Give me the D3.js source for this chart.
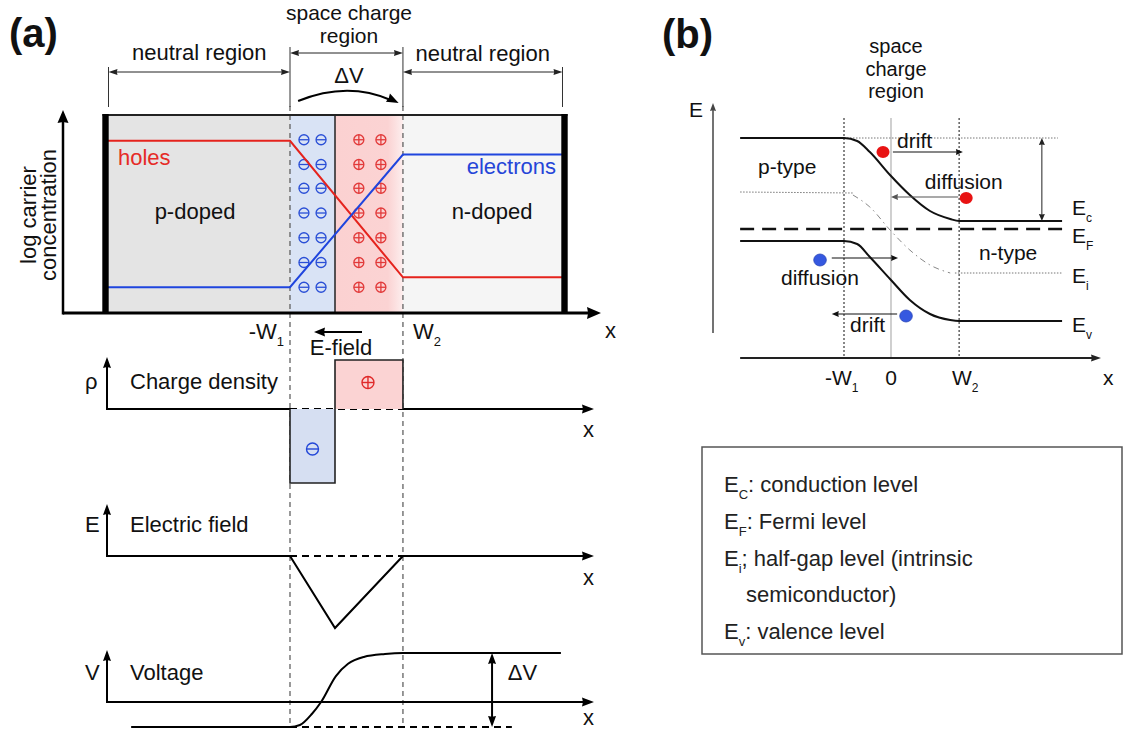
<!DOCTYPE html>
<html>
<head>
<meta charset="utf-8">
<title>p-n junction</title>
<script src="https://cdn.jsdelivr.net/npm/d3@7"></script>
<style>
html,body{margin:0;padding:0;background:#fff;}
svg{display:block;}
text{font-family:"Liberation Sans",Arial,Helvetica,sans-serif;fill:#111;}
</style>
</head>
<body>
<svg id="chart" width="1125" height="731"></svg>
<script>
// ===================== DATA =====================
// Panel (a): x in units of W1 (0 = metallurgical junction)
const contactsA = [-5.1, 5.1];                 // p-side and n-side contacts
const depletionA = [-1, 0, 1.51];              // -W1, junction, W2
const holesLogA = [[-5.1, 17.4], [-1, 17.4], [1.51, 3.6], [5.1, 3.6]];
const electronsLogA = [[-5.1, 2.6], [-1, 2.6], [1.51, 16.0], [5.1, 16.0]];
const ionRowsA = [17.5, 15.0, 12.6, 10.1, 7.6, 5.1, 2.6];
const acceptorColsA = [-0.69, -0.31];
const donorColsA = [0.53, 1.02];
const chargeBlocksA = [
  {x0: -1, x1: 0, rho: -1.51, sign: "-"},
  {x0: 0, x1: 1.51, rho: 1.0, sign: "+"}
];
const eFieldA = [[-1, 0], [0, -1.5], [1.51, 0]];
const voltageA = [[-4.53, -0.51], [-1, -0.51], [-0.78, -0.47], [-0.51, -0.24], [-0.31, 0],
                  [0.02, 0.53], [0.29, 0.78], [0.64, 0.92], [1.11, 0.98], [1.51, 1.0], [5.02, 1.0]];
const voltageStepA = [-0.51, 1.0];
const topLabelsA = ["neutral region", "space charge", "region", "ΔV", "neutral region"];
const boxLabelsA = ["holes", "electrons", "p-doped", "n-doped"];
const axisLabelA = ["log carrier", "concentration"];
const subPanelsA = [
  {sym: "ρ", name: "Charge density"},
  {sym: "E", name: "Electric field"},
  {sym: "V", name: "Voltage"}
];
const panelTitles = ["(a)", "(b)"];

// Panel (b): x in units of W1, energy in eV-like units
const spanB = [-3.21, 3.64];
const marksB = [-1, 0, 1.45];
const EcB = [[-3.21, 2.20], [-1, 2.20], [-0.72, 2.17], [-0.45, 2.06], [-0.02, 1.83], [0.40, 1.63],
             [0.83, 1.47], [1.26, 1.39], [1.45, 1.37], [3.64, 1.37]];
const EvB = [[-3.21, 1.17], [-1, 1.17], [-0.72, 1.14], [-0.45, 1.01], [-0.02, 0.79], [0.40, 0.58],
             [0.83, 0.44], [1.26, 0.38], [1.45, 0.37], [3.64, 0.37]];
const EFB = [[-3.21, 1.29], [3.64, 1.29]];
const EiLeftB = [[-3.21, 1.66], [-0.81, 1.65]];
const EiBendB = [[-0.81, 1.63], [-0.45, 1.51], [-0.02, 1.28], [0.40, 1.08], [0.83, 0.93], [1.26, 0.85]];
const EiRightB = [[1.36, 0.85], [3.64, 0.85]];
const electronsB = [[-0.17, 2.06], [1.60, 1.60]];
const holesB = [[-1.51, 0.98], [0.32, 0.42]];
const flowsB = [
  {label: "drift",     x0: 0.04,  x1: 1.53,  y: 2.06, lx: 0.13,  ly: 2.10, gray: false},
  {label: "diffusion", x0: 1.43,  x1: 0.00,  y: 1.61, lx: 0.72,  ly: 1.69, gray: true},
  {label: "diffusion", x0: -1.26, x1: 0.15,  y: 1.00, lx: -2.34, ly: 0.73, gray: false},
  {label: "drift",     x0: 0.13,  x1: -1.26, y: 0.44, lx: -0.87, ly: 0.26, gray: false}
];
const bandLabelsB = [
  {sub: "c", y: 1.43}, {sub: "F", y: 1.15}, {sub: "i", y: 0.75}, {sub: "v", y: 0.26}
];
const typeLabelsB = [{t: "p-type", x: -2.83, y: 1.84}, {t: "n-type", x: 1.87, y: 0.98}];
const headerB = ["space", "charge", "region"];
const legendB = [
  {sub: "C", sep: ":", text: " conduction level"},
  {sub: "F", sep: ":", text: " Fermi level"},
  {sub: "i", sep: ";", text: " half-gap level (intrinsic"},
  {sub: null, sep: "", text: "semiconductor)"},
  {sub: "v", sep: ":", text: " valence level"}
];

// ===================== HELPERS =====================
const svg = d3.select("#chart");
const defs = svg.append("defs");
const grad = defs.append("linearGradient").attr("id", "redFade").attr("x1", "0").attr("x2", "1").attr("y1", "0").attr("y2", "0");
grad.append("stop").attr("offset", "0").attr("stop-color", "#fbd1d1");
grad.append("stop").attr("offset", "0.78").attr("stop-color", "#fbd3d3");
grad.append("stop").attr("offset", "1").attr("stop-color", "#fdeeee");

function head(g, x, y, ang, len, half, color) {
  g.append("path")
    .attr("d", `M0,0L${-len},${-half}L${-len * 0.92},0L${-len},${half}Z`)
    .attr("transform", `translate(${x},${y}) rotate(${ang * 180 / Math.PI})`)
    .attr("fill", color);
}
function arrowLine(g, x1, y1, x2, y2, o) {
  const c = o.color || "#111";
  const ang = Math.atan2(y2 - y1, x2 - x1);
  const cut = o.len * 0.8;
  const sx = o.both ? x1 + Math.cos(ang) * cut : x1;
  const sy = o.both ? y1 + Math.sin(ang) * cut : y1;
  g.append("line").attr("x1", sx).attr("y1", sy)
    .attr("x2", x2 - Math.cos(ang) * cut).attr("y2", y2 - Math.sin(ang) * cut)
    .attr("stroke", c).attr("stroke-width", o.w || 1);
  head(g, x2, y2, ang, o.len, o.half, c);
  if (o.both) head(g, x1, y1, ang + Math.PI, o.len, o.half, c);
}
function subText(g, x, y, main, sub, rest, size, subSize, anchor, fill) {
  const t = g.append("text").attr("x", x).attr("y", y).attr("font-size", size)
    .attr("text-anchor", anchor || "start").style("fill", fill || "#111");
  t.append("tspan").text(main);
  if (sub) t.append("tspan").attr("font-size", subSize).attr("dy", size * 0.32).text(sub);
  if (rest) t.append("tspan").attr("dy", sub ? -size * 0.32 : 0).text(rest);
  return t;
}
function multiLine(g, x, y, lines, size, step) {
  const t = g.append("text").attr("x", x).attr("y", y).attr("font-size", size).attr("text-anchor", "middle");
  lines.forEach((l, i) => t.append("tspan").attr("x", x).attr("dy", i === 0 ? 0 : step).text(l));
  return t;
}
function ion(g, cx, cy, r, sign, color, w) {
  g.append("circle").attr("cx", cx).attr("cy", cy).attr("r", r)
    .attr("fill", "none").attr("stroke", color).attr("stroke-width", w);
  g.append("line").attr("x1", cx - r).attr("x2", cx + r).attr("y1", cy).attr("y2", cy)
    .attr("stroke", color).attr("stroke-width", w);
  if (sign === "+") g.append("line").attr("x1", cx).attr("x2", cx).attr("y1", cy - r).attr("y2", cy + r)
    .attr("stroke", color).attr("stroke-width", w);
}

// ===================== SCALES =====================
const xA = d3.scaleLinear().domain([-1, 0]).range([290, 335]);
const yConc = d3.scaleLinear().domain([0, 20]).range([313, 115]);
const yRho = d3.scaleLinear().domain([0, 1]).range([409, 360]);
const yEf = d3.scaleLinear().domain([0, -1.5]).range([556, 628]);
const yV = d3.scaleLinear().domain([0, 1]).range([702, 653]);
const xB = d3.scaleLinear().domain([-1, 0]).range([844, 891]);
const yB = d3.scaleLinear().domain([0, 1]).range([358, 258]);

const RED = "#e5231d", BLUE = "#1f45de";

// ===================== PANEL (a) =====================
const gA = svg.append("g");
const boxTop = yConc(20), boxBot = yConc(0);
const regionEdges = [contactsA[0], ...depletionA, contactsA[1]];
const regionFills = ["#e4e4e4", "#d9e3f5", "url(#redFade)", "#f5f5f5"];
gA.selectAll("rect.region").data(d3.range(4)).join("rect").attr("class", "region")
  .attr("x", i => xA(regionEdges[i])).attr("y", boxTop)
  .attr("width", i => xA(regionEdges[i + 1]) - xA(regionEdges[i])).attr("height", boxBot - boxTop)
  .attr("fill", i => regionFills[i]);

// ions
ionRowsA.forEach(r => {
  acceptorColsA.forEach(c => ion(gA, xA(c), yConc(r), 5, "-", "#2a4fd6", 1.3));
  donorColsA.forEach(c => ion(gA, xA(c), yConc(r), 5, "+", "#e23a3a", 1.3));
});

// dashed guides
[depletionA[0], depletionA[2]].forEach(v => {
  gA.append("line").attr("x1", xA(v)).attr("x2", xA(v)).attr("y1", 106).attr("y2", 728)
    .attr("stroke", "#555").attr("stroke-width", 1.2).attr("stroke-dasharray", "5,4");
});
// junction separator
gA.append("line").attr("x1", xA(0)).attr("x2", xA(0)).attr("y1", boxTop).attr("y2", boxBot)
  .attr("stroke", "#222").attr("stroke-width", 1.5);

// carrier lines
const lineA = d3.line().x(d => xA(d[0])).y(d => yConc(d[1]));
gA.append("path").attr("d", lineA(holesLogA)).attr("fill", "none").attr("stroke", RED).attr("stroke-width", 2);
gA.append("path").attr("d", lineA(electronsLogA)).attr("fill", "none").attr("stroke", BLUE).attr("stroke-width", 2);

// box border
gA.append("line").attr("x1", xA(contactsA[0]) - 3).attr("x2", xA(contactsA[1]) + 3)
  .attr("y1", boxTop).attr("y2", boxTop).attr("stroke", "#222").attr("stroke-width", 1.8);
contactsA.forEach(c => gA.append("rect").attr("x", xA(c) - 3.2).attr("y", boxTop - 1)
  .attr("width", 6.4).attr("height", boxBot - boxTop + 1).attr("fill", "#000"));

// main axes
arrowLine(gA, 63, boxBot, 601, boxBot, {w: 3, len: 14, half: 6, color: "#000"});
arrowLine(gA, 63, boxBot + 1.5, 63, 110, {w: 2.5, len: 13, half: 5.5, color: "#000"});

// top annotations
const ext = [[xA(contactsA[0]) + 3, 67], [xA(depletionA[0]), 47], [xA(depletionA[2]), 47], [xA(contactsA[1]) - 2, 67]];
ext.forEach(([x, y0]) => gA.append("line").attr("x1", x).attr("x2", x).attr("y1", y0).attr("y2", 107)
  .attr("stroke", "#333").attr("stroke-width", 1));
arrowLine(gA, ext[0][0], 72, ext[1][0], 72, {w: 1, len: 9, half: 3, color: "#222", both: true});
arrowLine(gA, ext[1][0], 53, ext[2][0], 53, {w: 1, len: 9, half: 3, color: "#222", both: true});
arrowLine(gA, ext[2][0], 72, ext[3][0], 72, {w: 1, len: 9, half: 3, color: "#222", both: true});

gA.append("text").attr("x", (ext[0][0] + ext[1][0]) / 2).attr("y", 60).attr("text-anchor", "middle")
  .attr("font-size", 22).text(topLabelsA[0]);
multiLine(gA, 349, 19.5, [topLabelsA[1], topLabelsA[2]], 21, 23.6);
gA.append("text").attr("x", 349).attr("y", 83).attr("text-anchor", "middle").attr("font-size", 22).text(topLabelsA[3]);
gA.append("text").attr("x", (ext[2][0] + ext[3][0]) / 2).attr("y", 61).attr("text-anchor", "middle")
  .attr("font-size", 22).text(topLabelsA[4]);

// curved delta-V arrow
{
  const x0 = xA(-0.82), x1 = xA(1.37);
  gA.append("path").attr("d", `M${x0},101 Q${(x0 + x1) / 2},81 ${x1 - 6},100`)
    .attr("fill", "none").attr("stroke", "#000").attr("stroke-width", 2);
  head(gA, x1 + 2, 103, Math.atan2(4, 8), 12, 4.5, "#000");
}

// box labels
gA.append("text").attr("x", 118).attr("y", 165).attr("font-size", 22).style("fill", "#e62b26").text(boxLabelsA[0]);
gA.append("text").attr("x", 556).attr("y", 174).attr("font-size", 22).attr("text-anchor", "end").style("fill", "#2545d8").text(boxLabelsA[1]);
gA.append("text").attr("x", 195).attr("y", 219).attr("font-size", 22).attr("text-anchor", "middle").text(boxLabelsA[2]);
gA.append("text").attr("x", 492).attr("y", 219).attr("font-size", 22).attr("text-anchor", "middle").text(boxLabelsA[3]);

// rotated y label
gA.append("text").attr("transform", "translate(36,215) rotate(-90)").attr("text-anchor", "middle")
  .attr("font-size", 22).text(axisLabelA[0]);
gA.append("text").attr("transform", "translate(56,215) rotate(-90)").attr("text-anchor", "middle")
  .attr("font-size", 22).text(axisLabelA[1]);

// x axis labels
subText(gA, 284, 339, "-W", "1", null, 22, 13, "end");
subText(gA, 413, 339, "W", "2", null, 22, 13, "start");
gA.append("text").attr("x", 605).attr("y", 338).attr("font-size", 22).text("x");
arrowLine(gA, 362, 332, 314, 332, {w: 2, len: 11, half: 4.5, color: "#000"});
gA.append("text").attr("x", 341).attr("y", 355).attr("text-anchor", "middle").attr("font-size", 22).text("E-field");

// ---- sub panels ----
const subAxes = [yRho(0), yEf(0), yV(0)];
const subTextY = [389, 532, 680];
const subXLabelY = [437, 585, 725];
subPanelsA.forEach((p, i) => {
  const y0 = subAxes[i];
  arrowLine(gA, 107, y0 + 1, 107, y0 - 52, {w: 2, len: 11, half: 4, color: "#000"});
  gA.append("text").attr("x", 85).attr("y", subTextY[i]).attr("font-size", 22).text(p.sym);
  gA.append("text").attr("x", 130).attr("y", subTextY[i]).attr("font-size", 22).text(p.name);
  gA.append("text").attr("x", 583).attr("y", subXLabelY[i]).attr("font-size", 22).text("x");
  if (i < 2) {
    gA.append("line").attr("x1", 107).attr("x2", xA(depletionA[0])).attr("y1", y0).attr("y2", y0)
      .attr("stroke", "#000").attr("stroke-width", 2);
    gA.append("line").attr("x1", xA(depletionA[0])).attr("x2", xA(depletionA[2])).attr("y1", y0).attr("y2", y0)
      .attr("stroke", "#000").attr("stroke-width", 2).attr("stroke-dasharray", "7,5");
    arrowLine(gA, xA(depletionA[2]), y0, 594, y0, {w: 2, len: 12, half: 4.5, color: "#000"});
  } else {
    arrowLine(gA, 107, y0, 594, y0, {w: 2, len: 12, half: 4.5, color: "#000"});
  }
});

// charge density blocks
chargeBlocksA.forEach(b => {
  const x0 = xA(b.x0), x1 = xA(b.x1), y0 = yRho(0), y1 = yRho(b.rho);
  gA.append("rect").attr("x", x0).attr("y", Math.min(y0, y1)).attr("width", x1 - x0)
    .attr("height", Math.abs(y1 - y0)).attr("fill", b.sign === "+" ? "#fbd3d3" : "#d6dff2");
  gA.append("path").attr("d", `M${x0},${y0}L${x0},${y1}L${x1},${y1}L${x1},${y0}`)
    .attr("fill", "none").attr("stroke", "#222").attr("stroke-width", 1.6);
  ion(gA, (x0 + x1) / 2 - (b.sign === "+" ? 1 : 0), (y0 + y1) / 2 + (b.sign === "+" ? -2 : 3), 6,
      b.sign, b.sign === "+" ? "#e02a2a" : "#2347d8", 1.4);
});

// electric field
gA.append("path").attr("d", d3.line().x(d => xA(d[0])).y(d => yEf(d[1]))(eFieldA))
  .attr("fill", "none").attr("stroke", "#000").attr("stroke-width", 2);

// voltage
gA.append("path").attr("d", d3.line().curve(d3.curveMonotoneX).x(d => xA(d[0])).y(d => yV(d[1]))(voltageA))
  .attr("fill", "none").attr("stroke", "#000").attr("stroke-width", 2);
gA.append("line").attr("x1", xA(depletionA[0])).attr("x2", xA(3.93))
  .attr("y1", yV(voltageStepA[0])).attr("y2", yV(voltageStepA[0]))
  .attr("stroke", "#000").attr("stroke-width", 2).attr("stroke-dasharray", "7,5");
arrowLine(gA, xA(3.49), yV(voltageStepA[1]), xA(3.49), yV(voltageStepA[0]), {w: 2, len: 11, half: 4, color: "#000", both: true});
gA.append("text").attr("x", xA(3.84)).attr("y", 680).attr("font-size", 22).text("ΔV");

// title
svg.append("text").attr("x", 9).attr("y", 47).attr("font-size", 40).attr("font-weight", "bold").text(panelTitles[0]);
svg.append("text").attr("x", 662).attr("y", 48).attr("font-size", 40).attr("font-weight", "bold").text(panelTitles[1]);

// ===================== PANEL (b) =====================
const gB = svg.append("g");
const bTop = 118;
// vertical markers
marksB.forEach((m, i) => {
  gB.append("line").attr("x1", xB(m)).attr("x2", xB(m)).attr("y1", bTop).attr("y2", yB(0))
    .attr("stroke", i === 1 ? "#c4c4c4" : "#555").attr("stroke-width", i === 1 ? 1.6 : 1.4)
    .attr("stroke-dasharray", i === 1 ? null : "2,2");
});
// Ec reference dotted line
gB.append("line").attr("x1", xB(-1)).attr("x2", xB(3.55)).attr("y1", yB(EcB[0][1])).attr("y2", yB(EcB[0][1]))
  .attr("stroke", "#777").attr("stroke-width", 1).attr("stroke-dasharray", "1.5,1.5");

const lineB = d3.line().x(d => xB(d[0])).y(d => yB(d[1]));
const lineBc = d3.line().curve(d3.curveMonotoneX).x(d => xB(d[0])).y(d => yB(d[1]));
gB.append("path").attr("d", lineB(EiLeftB)).attr("fill", "none").attr("stroke", "#777")
  .attr("stroke-width", 1).attr("stroke-dasharray", "1.5,1.5");
gB.append("path").attr("d", lineB(EiRightB)).attr("fill", "none").attr("stroke", "#777")
  .attr("stroke-width", 1).attr("stroke-dasharray", "1.5,1.5");
gB.append("path").attr("d", lineBc(EiBendB)).attr("fill", "none").attr("stroke", "#888")
  .attr("stroke-width", 1).attr("stroke-dasharray", "6,4,1.5,4");
gB.append("path").attr("d", lineB(EFB)).attr("fill", "none").attr("stroke", "#111")
  .attr("stroke-width", 2.4).attr("stroke-dasharray", "14,8");
gB.append("path").attr("d", lineBc(EcB)).attr("fill", "none").attr("stroke", "#111").attr("stroke-width", 2);
gB.append("path").attr("d", lineBc(EvB)).attr("fill", "none").attr("stroke", "#111").attr("stroke-width", 2);

// band bending double arrow
arrowLine(gB, xB(3.21), yB(EcB[0][1]), xB(3.21), yB(EcB[EcB.length - 1][1]), {w: 1, len: 7, half: 3, color: "#222", both: true});

// axes
arrowLine(gB, 713, 333, 713, 103, {w: 1.5, len: 8, half: 3, color: "#444"});
arrowLine(gB, xB(spanB[0]), yB(0), 1101, yB(0), {w: 2, len: 10, half: 3.5, color: "#222"});
gB.append("text").attr("x", 689).attr("y", 117).attr("font-size", 21).text("E");
gB.append("text").attr("x", 1103).attr("y", 385).attr("font-size", 21).text("x");
subText(gB, 825, 385, "-W", "1", null, 21, 12, "start");
gB.append("text").attr("x", xB(0)).attr("y", 385).attr("font-size", 21).attr("text-anchor", "middle").text("0");
subText(gB, 952, 385, "W", "2", null, 21, 12, "start");

// header
multiLine(gB, 896, 53, headerB, 20, 22.5);

// flows
flowsB.forEach(f => {
  const c = f.gray ? "#555" : "#111";
  arrowLine(gB, xB(f.x0), yB(f.y), xB(f.x1), yB(f.y), {w: 1.1, len: 7, half: 3, color: c});
  gB.append("text").attr("x", xB(f.lx)).attr("y", yB(f.ly)).attr("font-size", 21).text(f.label);
});

// carriers
gB.selectAll("ellipse.e").data(electronsB).join("ellipse").attr("class", "e")
  .attr("cx", d => xB(d[0])).attr("cy", d => yB(d[1])).attr("rx", 6.5).attr("ry", 6)
  .attr("fill", "#e81313");
gB.selectAll("ellipse.h").data(holesB).join("ellipse").attr("class", "h")
  .attr("cx", d => xB(d[0])).attr("cy", d => yB(d[1])).attr("rx", 6.3).attr("ry", 6)
  .attr("fill", "#3558e0").attr("stroke", "#2a45b8").attr("stroke-width", 0.8);

// band labels
bandLabelsB.forEach(b => subText(gB, 1072, yB(b.y), "E", b.sub, null, 21, 12, "start"));
typeLabelsB.forEach(t => gB.append("text").attr("x", xB(t.x)).attr("y", yB(t.y)).attr("font-size", 21).text(t.t));

// legend
const gL = svg.append("g");
gL.append("rect").attr("x", 702).attr("y", 447).attr("width", 420).attr("height", 207)
  .attr("fill", "#fff").attr("stroke", "#555").attr("stroke-width", 1.5);
legendB.forEach((d, i) => {
  const y = 492 + i * 36.8;
  if (d.sub) subText(gL, 724, y, "E", d.sub, d.sep + d.text, 22, 13, "start", "#222");
  else gL.append("text").attr("x", 746).attr("y", y).attr("font-size", 22).style("fill", "#222").text(d.text);
});
</script>
</body>
</html>
